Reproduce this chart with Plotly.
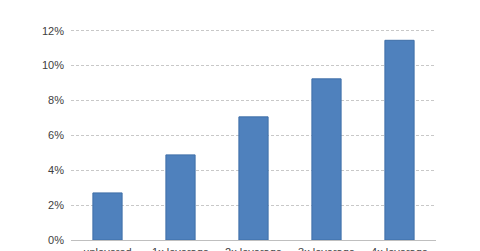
import plotly.graph_objects as go

categories = ["unlevered", "1x leverage", "2x leverage", "3x leverage", "4x leverage"]
values = [2.7, 4.88, 7.06, 9.24, 11.45]
ytick_vals = [0, 2, 4, 6, 8, 10, 12]
ytick_text = ["0%", "2%", "4%", "6%", "8%", "10%", "12%"]

fig = go.Figure(go.Bar(
    x=categories, y=values,
    marker=dict(color="#4F81BD", line=dict(color="#3F6FA8", width=1)),
    width=0.4,
))
fig.update_layout(
    width=480, height=251,
    margin=dict(l=71, r=44, t=22, b=11),
    paper_bgcolor="white", plot_bgcolor="white",
    font=dict(family="Liberation Sans, Arial", size=11, color="#404040"),
    showlegend=False,
    bargap=0.6,
)
fig.update_yaxes(
    range=[0, 12.5], tickvals=ytick_vals, ticktext=ytick_text,
    showgrid=True, gridcolor="#C8C8C8", griddash="3px,2px", gridwidth=1,
    zeroline=False, showline=False, ticks="", ticklabelstandoff=6,
    automargin=False,
)
fig.update_xaxes(
    showline=True, linecolor="#BFBFBF", linewidth=1,
    ticks="", showgrid=False, automargin=False, ticklabelstandoff=2,
)
fig.write_html("out.html")
